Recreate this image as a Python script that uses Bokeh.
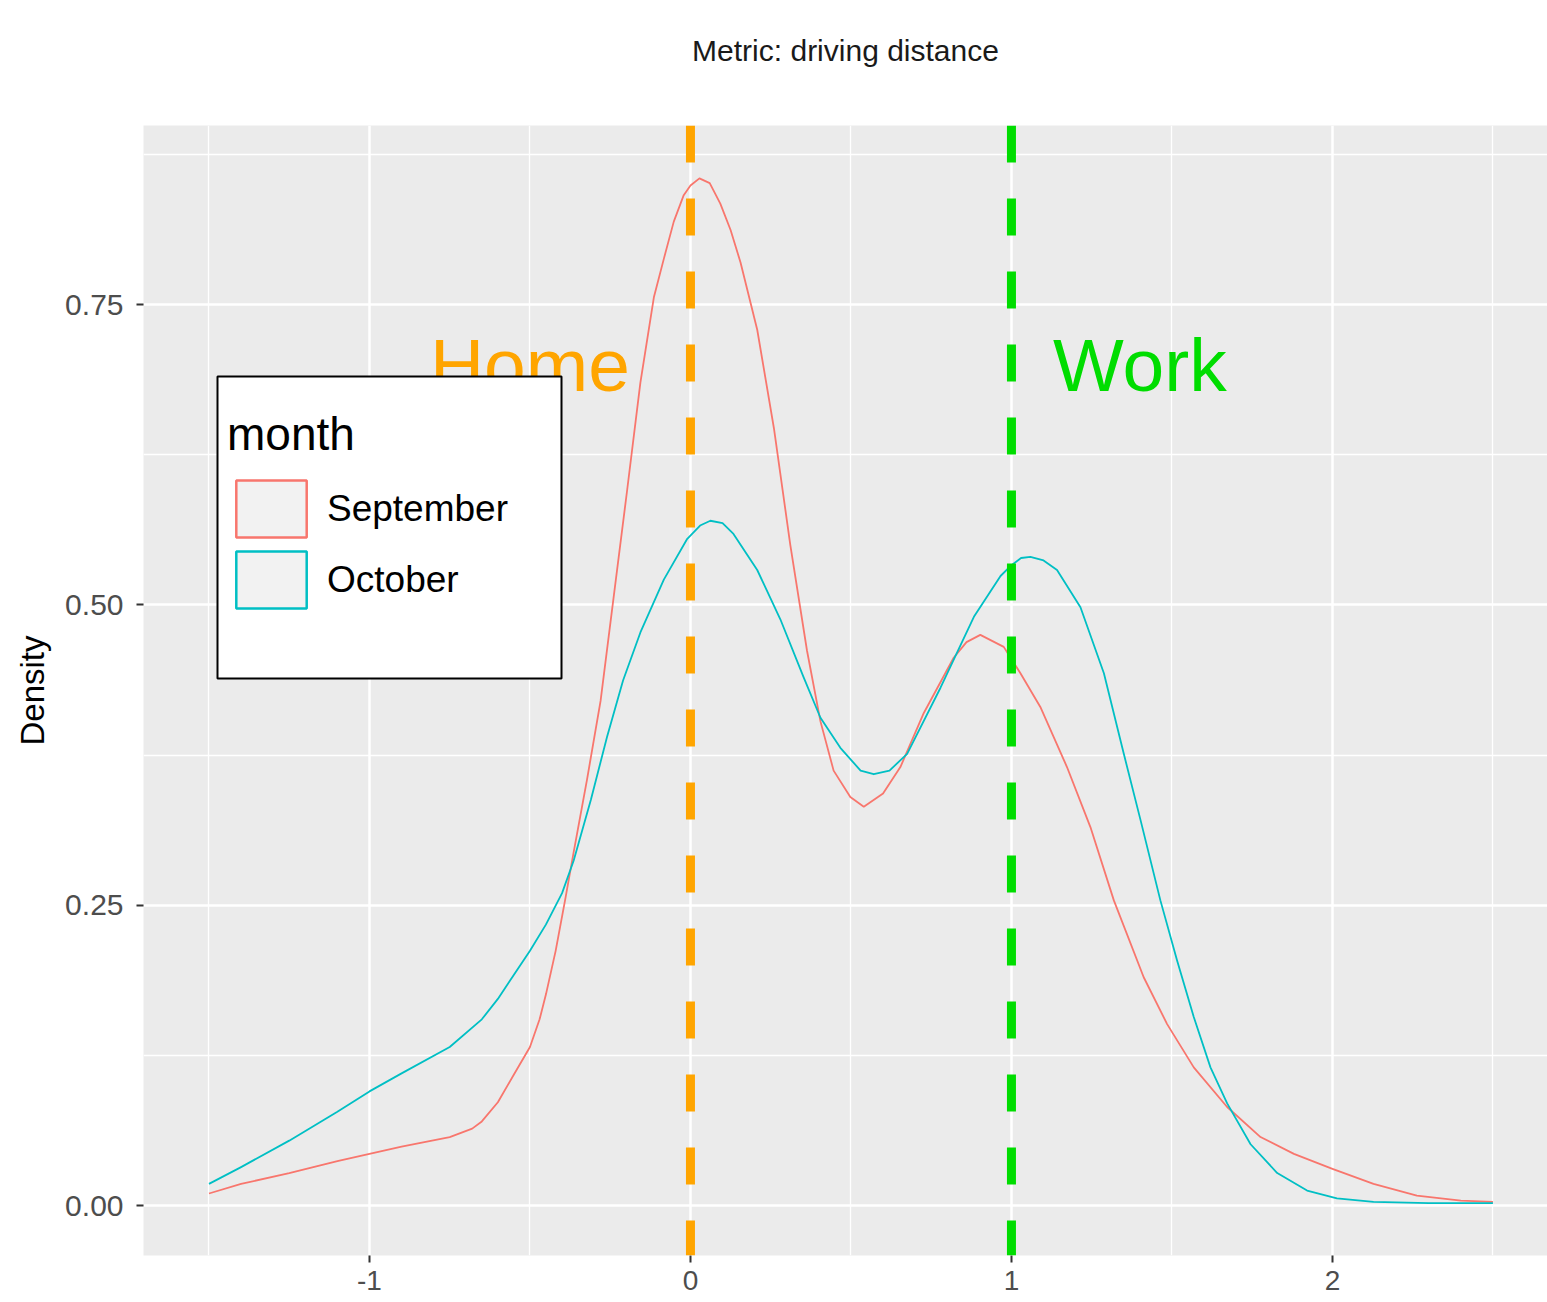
import numpy as np
from bokeh.plotting import figure
from bokeh.models import (Range1d, FixedTicker, Span, Legend, LegendItem, BoxAnnotation,
                          Title, NumeralTickFormatter)
from bokeh.core.properties import value
from bokeh.embed import file_html
from bokeh.resources import INLINE

# ---------------- data ----------------
months = ["September", "October"]
month_colors = ["#F8766D", "#00BFC4"]

sep_x = [-1.5, -1.4, -1.25, -1.1, -1.0, -0.9, -0.75, -0.68, -0.65, -0.6, -0.55, -0.5, -0.47,
         -0.45, -0.42, -0.39, -0.364, -0.322, -0.28, -0.239, -0.197, -0.156, -0.114, -0.083,
         -0.052, -0.021, 0.0, 0.028, 0.06, 0.093, 0.125, 0.156, 0.208, 0.26, 0.311, 0.363, 0.405,
         0.446, 0.498, 0.54, 0.60, 0.654, 0.727, 0.82, 0.86, 0.903, 0.976, 1.028, 1.09, 1.173,
         1.246, 1.319, 1.412, 1.485, 1.568, 1.672, 1.776, 1.88, 2.0, 2.128, 2.263, 2.4, 2.5]
sep_d = [0.010, 0.018, 0.027, 0.037, 0.043, 0.049, 0.057, 0.064, 0.070, 0.086, 0.109, 0.132, 0.155,
         0.176, 0.212, 0.255, 0.294, 0.355, 0.420, 0.507, 0.596, 0.685, 0.756, 0.788,
         0.819, 0.841, 0.849, 0.855, 0.851, 0.834, 0.812, 0.785, 0.729, 0.647, 0.550, 0.462, 0.403,
         0.362, 0.340, 0.332, 0.343, 0.365, 0.410, 0.456, 0.469, 0.475, 0.465, 0.443, 0.415, 0.365,
         0.315, 0.254, 0.190, 0.151, 0.115, 0.082, 0.057, 0.043, 0.0305, 0.018, 0.0083, 0.004,
         0.003]

oct_x = [-1.5, -1.4, -1.25, -1.1, -1.0, -0.9, -0.75, -0.65, -0.6, -0.55, -0.5, -0.45, -0.4,
         -0.364, -0.31, -0.26, -0.21, -0.156, -0.083, -0.01, 0.03, 0.062, 0.1, 0.134, 0.208,
         0.28, 0.352, 0.405, 0.467, 0.53, 0.571, 0.62, 0.675, 0.779, 0.883, 0.966, 1.0, 1.03,
         1.059, 1.1, 1.142, 1.215, 1.288, 1.35, 1.402, 1.464, 1.516, 1.568, 1.62, 1.672, 1.745,
         1.828, 1.921, 2.014, 2.128, 2.3, 2.5]
oct_d = [0.018, 0.032, 0.054, 0.078, 0.095, 0.110, 0.132, 0.155, 0.172, 0.192, 0.212, 0.234, 0.260,
         0.287, 0.338, 0.390, 0.437, 0.477, 0.521, 0.555, 0.566, 0.570, 0.568, 0.559, 0.529,
         0.488, 0.440, 0.406, 0.381, 0.362, 0.359, 0.362, 0.376, 0.431, 0.490, 0.524, 0.533, 0.539,
         0.540, 0.537, 0.529, 0.498, 0.443, 0.376, 0.321, 0.254, 0.204, 0.157, 0.115, 0.085, 0.051,
         0.027, 0.0125, 0.006, 0.003, 0.002, 0.002]

x_ticks = [-1, 0, 1, 2]
x_minor = [-1.5, -0.5, 0.5, 1.5, 2.5]
y_ticks = [0, 0.25, 0.5, 0.75]
y_minor = [0.125, 0.375, 0.625, 0.875]

ref_x = [0, 1]
ref_labels = ["Home", "Work"]
ref_colors = ["#FFA500", "#00DD00"]
label_x = [-0.5, 1.4]
label_y = [0.7, 0.7]

subtitle = "Metric: driving distance"
y_title = "Density"
legend_title = "month"

FONT = "Liberation Sans"

# ---------------- figure ----------------
p = figure(width=1547, height=1302, output_backend="svg", toolbar_location=None,
           x_range=Range1d(-1.704, 2.670), y_range=Range1d(-0.0416, 0.899),
           min_border_left=143, min_border_right=0, min_border_top=125, min_border_bottom=47)

p.background_fill_color = "#EBEBEB"
p.border_fill_color = "white"
p.outline_line_color = None

# spacer between subtitle and panel, then the subtitle
p.add_layout(Title(text=" ", text_font_size="1px", standoff=56), "above")
p.add_layout(Title(text=subtitle, align="center", text_font=FONT, text_font_size="30px",
                   text_font_style="normal", text_color="#1A1A1A", standoff=0), "above")

xt = FixedTicker(ticks=x_ticks, minor_ticks=x_minor)
yt = FixedTicker(ticks=y_ticks, minor_ticks=y_minor)
p.xaxis.ticker = xt
p.xgrid.ticker = xt
p.yaxis.ticker = yt
p.ygrid.ticker = yt
p.xaxis.formatter = NumeralTickFormatter(format="0")
p.yaxis.formatter = NumeralTickFormatter(format="0.00")

for g in (p.xgrid, p.ygrid):
    g.grid_line_color = "white"
    g.grid_line_width = 2.5
    g.minor_grid_line_color = "white"
    g.minor_grid_line_width = 1.3

for ax in (p.xaxis, p.yaxis):
    ax.axis_line_color = None
    ax.minor_tick_line_color = None
    ax.major_tick_line_color = "#333333"
    ax.major_tick_line_width = 2
    ax.major_tick_out = 7
    ax.major_tick_in = 0
    ax.major_label_text_font = FONT
    ax.major_label_text_color = "#4D4D4D"

p.xaxis.major_label_text_font_size = "28px"
p.yaxis.major_label_text_font_size = "30px"
p.xaxis.major_label_standoff = 8
p.yaxis.major_label_standoff = 13
p.yaxis.axis_label = y_title
p.yaxis.axis_label_text_font = FONT
p.yaxis.axis_label_text_font_size = "33px"
p.yaxis.axis_label_text_font_style = "normal"
p.yaxis.axis_label_text_color = "black"
p.yaxis.axis_label_standoff = 11

# density curves
series = [(sep_x, sep_d), (oct_x, oct_d)]
for (xs, ds), c in zip(series, month_colors):
    p.line(xs, ds, line_color=c, line_width=1.8, line_join="round")

# annotation texts
p.text(x=label_x, y=label_y, text=ref_labels, text_color=ref_colors,
       text_font=value(FONT), text_font_size="75px", text_align="center", text_baseline="middle")

# reference lines
for rx, rc in zip(ref_x, ref_colors):
    p.add_layout(Span(location=rx, dimension="height", line_color=rc, line_width=9,
                      line_dash="37 36"))

# legend keys (area-style keys like ggplot density keys); NaN data draws nothing on the panel
key_renderers = []
for c in month_colors:
    nan = np.array([np.nan])
    r = p.quad(left=nan, right=nan, top=nan, bottom=nan, fill_color="#F2F2F2", line_color=c,
               line_width=2.5)
    key_renderers.append(r)

box = BoxAnnotation(left=74, right=418, bottom=577, top=879,
                    left_units="screen", right_units="screen",
                    top_units="screen", bottom_units="screen",
                    fill_color="white", fill_alpha=1, line_color="black", line_alpha=1,
                    line_width=2)
p.add_layout(box)

legend = Legend(items=[LegendItem(label=m, renderers=[r]) for m, r in zip(months, key_renderers)],
                location=(84, 640), orientation="vertical", title=legend_title,
                title_text_font=FONT, title_text_font_size="46px", title_text_font_style="normal",
                title_text_color="black", title_standoff=12,
                label_text_font=FONT, label_text_font_size="37px", label_text_color="black",
                glyph_width=88, glyph_height=71, spacing=0, label_standoff=12, padding=7,
                background_fill_alpha=0, border_line_color=None, margin=0)
p.add_layout(legend)

open("out.html", "w").write(file_html(p, INLINE))
